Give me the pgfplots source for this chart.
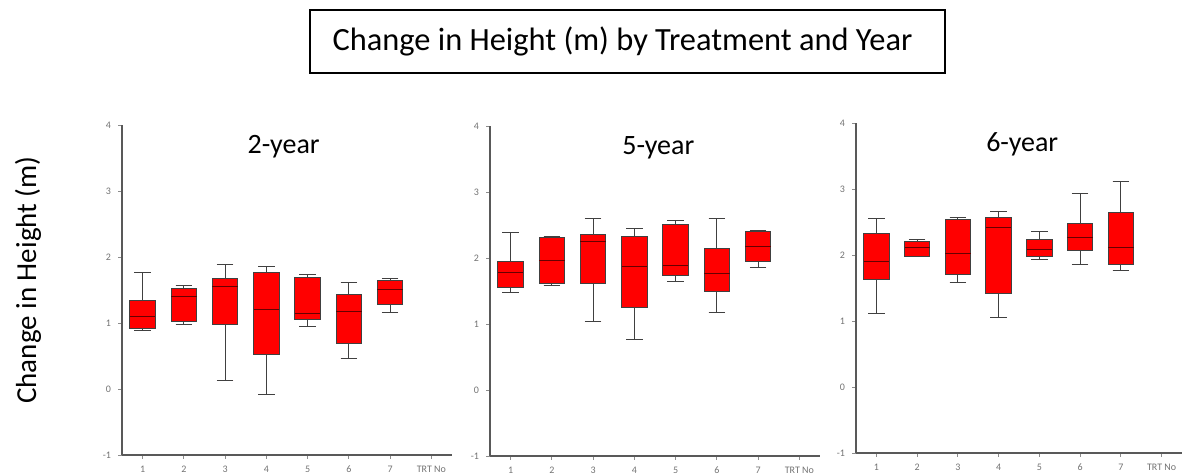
\documentclass[border=0pt]{standalone}
\usepackage{fontspec}
\setmainfont{Carlito}
\usepackage{pgfplots}
\pgfplotsset{compat=1.18}
\usepgfplotslibrary{statistics}

\pgfplotsset{
  panel/.style={
    scale only axis, width=165pt, height=165pt,
    xmin=0.5, xmax=8.5, ymin=-1, ymax=4,
    axis lines=left,
    axis line style={draw=black!65, line width=0.9pt, -},
    xtick={1,...,8}, xticklabels={1,2,3,4,5,6,7,TRT No},
    ytick={-1,0,...,4},
    tick align=outside, major tick length=2pt,
    tick style={black!45, line width=0.4pt},
    tick label style={font=\fontsize{5}{5}\selectfont, text=black!55},
    /pgf/number format/assume math mode=true,
    boxplot/draw direction=y,
    boxplot/box extend=0.62,
    boxplot/whisker extend=0.4,
    boxplot/every median/.style={draw=black!60!red},
    clip=false,
  },
  bx/.style={draw=black!75, fill=red, line width=0.5pt, solid},
}
% draw position, lower whisker, lower quartile, median, upper quartile, upper whisker
\newcommand{\bp}[6]{\addplot[bx, boxplot prepared={draw position=#1,
  lower whisker=#2, lower quartile=#3, median=#4,
  upper quartile=#5, upper whisker=#6}] coordinates {};}

\begin{document}
\begin{tikzpicture}
\useasboundingbox (0,0) rectangle (594.5pt,237pt);

\draw[line width=0.8pt] (155pt,200.5pt) rectangle (472.5pt,232pt);
\node at (311.25pt,216.5pt) {\fontsize{16.2}{16.2}\selectfont Change in Height (m) by Treatment and Year};
\node[rotate=90] at (14pt,97pt) {\fontsize{14.5}{14.5}\selectfont Change in Height (m)};

% 2-year
\begin{axis}[panel, at={(61pt,9.5pt)}, anchor=south west]
\bp{1}{0.88}{0.92}{1.10}{1.34}{1.77}
\bp{2}{0.97}{1.02}{1.40}{1.53}{1.57}
\bp{3}{0.13}{0.97}{1.55}{1.67}{1.89}
\bp{4}{-0.09}{0.53}{1.20}{1.77}{1.86}
\bp{5}{0.95}{1.05}{1.15}{1.69}{1.74}
\bp{6}{0.46}{0.69}{1.18}{1.43}{1.62}
\bp{7}{1.16}{1.28}{1.50}{1.64}{1.68}
\node at (rel axis cs:0.49,0.935) {\fontsize{14}{14}\selectfont 2-year};
\end{axis}

% 5-year
\begin{axis}[panel, at={(245pt,9pt)}, anchor=south west]
\bp{1}{1.47}{1.56}{1.78}{1.94}{2.38}
\bp{2}{1.59}{1.62}{1.96}{2.31}{2.33}
\bp{3}{1.04}{1.62}{2.25}{2.35}{2.60}
\bp{4}{0.76}{1.25}{1.87}{2.33}{2.44}
\bp{5}{1.65}{1.73}{1.89}{2.51}{2.57}
\bp{6}{1.18}{1.49}{1.77}{2.14}{2.60}
\bp{7}{1.85}{1.95}{2.18}{2.40}{2.42}
\node at (rel axis cs:0.51,0.935) {\fontsize{14}{14}\selectfont 5-year};
\end{axis}

% 6-year
\begin{axis}[panel, at={(428pt,10.5pt)}, anchor=south west, width=163pt]
\bp{1}{1.11}{1.63}{1.90}{2.32}{2.55}
\bp{2}{1.98}{1.98}{2.12}{2.21}{2.23}
\bp{3}{1.58}{1.71}{2.02}{2.54}{2.57}
\bp{4}{1.06}{1.42}{2.41}{2.57}{2.66}
\bp{5}{1.93}{1.97}{2.08}{2.24}{2.35}
\bp{6}{1.86}{2.07}{2.27}{2.48}{2.93}
\bp{7}{1.76}{1.85}{2.12}{2.64}{3.11}
\node at (rel axis cs:0.51,0.935) {\fontsize{14}{14}\selectfont 6-year};
\end{axis}
\end{tikzpicture}
\end{document}
